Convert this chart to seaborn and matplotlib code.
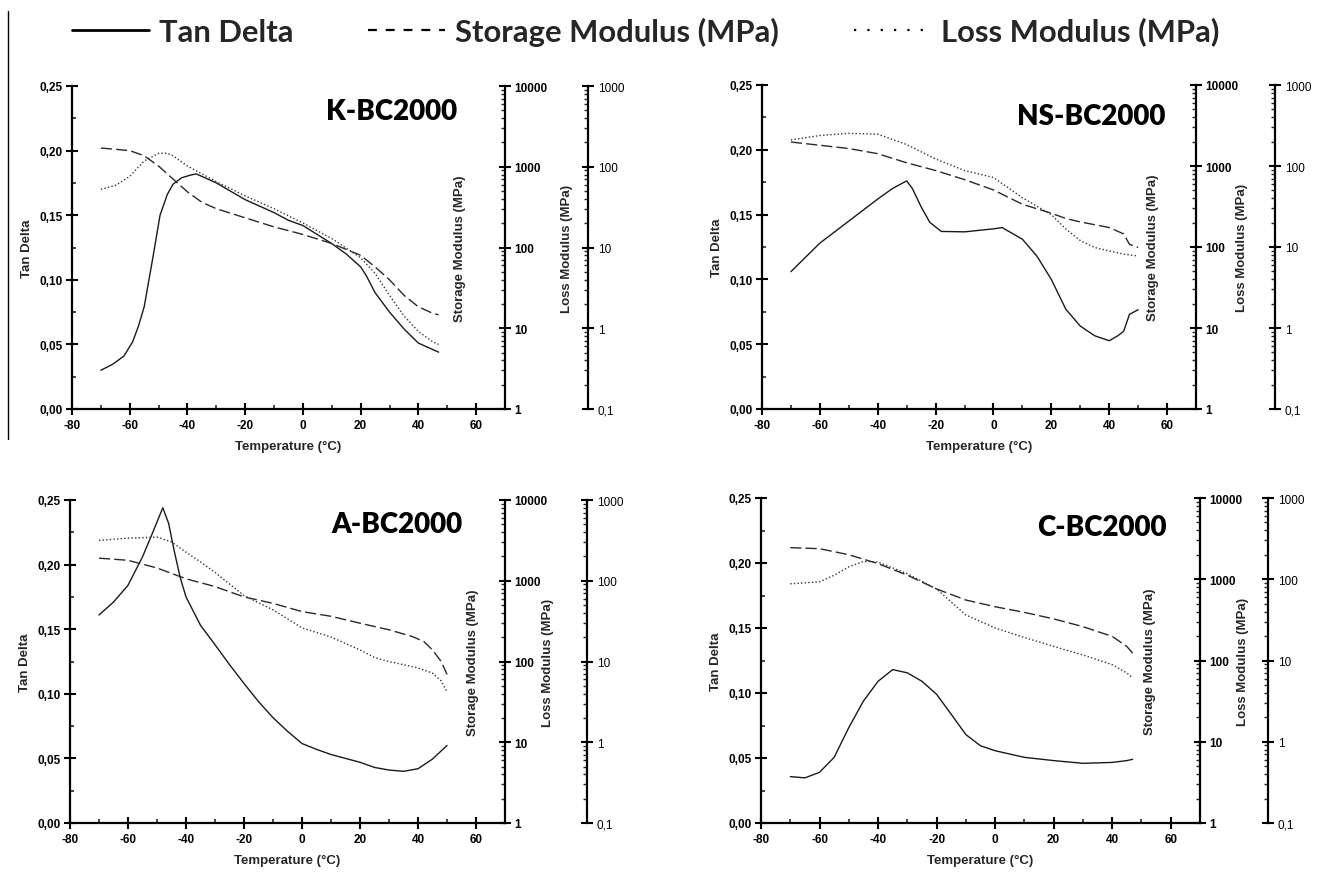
import matplotlib
matplotlib.use("Agg")
import matplotlib.pyplot as plt
import seaborn as sns
from matplotlib.lines import Line2D
from matplotlib.ticker import MultipleLocator, LogLocator, FuncFormatter, NullFormatter

sns.set_style("white")
plt.rcParams["font.family"] = ["Liberation Sans", "DejaVu Sans"]
plt.rcParams["axes.unicode_minus"] = False

# ---------------- data ----------------
panel_names = ["K-BC2000", "NS-BC2000", "A-BC2000", "C-BC2000"]
legend_labels = ["Tan Delta", "Storage Modulus (MPa)", "Loss Modulus (MPa)"]

# K-BC2000
k_tan_t = [-70, -66, -62, -59, -57, -55, -52, -49.5, -47, -45, -42, -39, -37, -30, -20, -10, -5, 0, 5, 10, 15, 20,
           22, 25, 30, 35, 40, 45, 47]
k_tan = [0.030, 0.0345, 0.041, 0.052, 0.064, 0.079, 0.117, 0.150, 0.166, 0.174, 0.179, 0.181, 0.182, 0.175, 0.162,
         0.152, 0.146, 0.142, 0.135, 0.128, 0.120, 0.110, 0.103, 0.090, 0.075, 0.062, 0.051, 0.046, 0.044]
k_sto_t = [-70, -60, -55, -50, -45, -40, -35, -30, -20, -10, 0, 10, 20, 25, 30, 35, 40, 45, 47]
k_sto = [1706, 1585, 1368, 1019, 705, 488, 363, 302, 233, 180, 145, 112, 80, 57.5, 39.8, 25.6, 18.4, 15.3, 14.7]
k_loss_t = [-70, -65, -60, -55, -50, -47, -45, -40, -35, -30, -20, -10, 0, 10, 20, 25, 30, 35, 40, 45, 47]
k_loss = [52.5, 58.6, 75.9, 118, 147, 147, 137, 102, 81.7, 65.5, 43.6, 30.2, 20.1, 12.9, 7.45, 4.79, 2.56, 1.42,
          0.912, 0.679, 0.631]

# NS-BC2000
ns_tan_t = [-70, -60, -50, -40, -35, -30, -28, -25, -22, -18, -10, 0, 3, 10, 15, 20, 25, 30, 35, 40, 43, 45, 47, 50]
ns_tan = [0.106, 0.128, 0.145, 0.162, 0.170, 0.176, 0.170, 0.156, 0.144, 0.137, 0.1367, 0.139, 0.140, 0.131, 0.118,
          0.100, 0.077, 0.064, 0.0565, 0.0527, 0.0565, 0.060, 0.073, 0.0766]
ns_sto_t = [-70, -60, -50, -40, -30, -20, -10, 0, 10, 20, 25, 30, 40, 45, 47, 50]
ns_sto = [1977, 1803, 1644, 1419, 1096, 879, 679, 506, 337, 261, 225, 204, 174, 145, 108, 98.6]
ns_loss_t = [-70, -60, -50, -40, -30, -20, -10, 0, 10, 20, 25, 30, 35, 40, 45, 50]
ns_loss = [210, 238, 253, 247, 184, 122, 87.9, 72.1, 40.6, 25.1, 16.7, 12.0, 9.86, 8.95, 8.17, 7.73]

# A-BC2000
a_tan_t = [-70, -65, -60, -55, -52, -50, -48, -46, -44, -42, -40, -35, -30, -25, -20, -15, -10, -5, 0, 5, 10, 15,
           20, 25, 30, 35, 40, 45, 50]
a_tan = [0.161, 0.171, 0.184, 0.206, 0.222, 0.233, 0.244, 0.232, 0.210, 0.190, 0.175, 0.153, 0.138, 0.1226, 0.108,
         0.094, 0.0815, 0.071, 0.0615, 0.057, 0.053, 0.050, 0.047, 0.043, 0.041, 0.040, 0.042, 0.0495, 0.060]
a_sto_t = [-70, -60, -50, -40, -30, -20, -10, 0, 10, 20, 30, 38, 42, 45, 48, 50]
a_sto = [1905, 1791, 1439, 1057, 847, 631, 525, 415, 363, 298, 247, 204, 177, 139, 100, 69.2]
a_loss_t = [-70, -60, -50, -45, -40, -35, -30, -20, -10, 0, 10, 20, 25, 30, 40, 45, 48, 50]
a_loss = [316, 337, 347, 302, 226, 171, 127, 65.5, 43.6, 26.1, 20.1, 13.9, 11.2, 10.0, 8.32, 7.18, 5.75, 4.21]

# C-BC2000
c_tan_t = [-70, -65, -60, -55, -50, -45, -40, -35, -30, -25, -20, -15, -10, -5, 0, 10, 20, 30, 40, 45, 47]
c_tan = [0.0357, 0.0347, 0.039, 0.0505, 0.0734, 0.0938, 0.109, 0.118, 0.1155, 0.109, 0.099, 0.0836, 0.068, 0.0594,
         0.0556, 0.0505, 0.048, 0.0459, 0.0466, 0.048, 0.049]
c_sto_t = [-70, -60, -50, -40, -30, -20, -10, 0, 10, 20, 30, 40, 45, 47]
c_sto = [2449, 2377, 2005, 1556, 1122, 759, 555, 459, 391, 325, 261, 198, 149, 123]
c_loss_t = [-70, -60, -55, -50, -45, -40, -30, -20, -15, -10, 0, 10, 20, 30, 40, 45, 47]
c_loss = [87.9, 92.9, 112, 142, 166, 163, 117, 75.9, 52.5, 36.3, 25.1, 19.2, 14.9, 11.7, 8.89, 7.02, 6.11]

panel_data = [
    (k_tan_t, k_tan, k_sto_t, k_sto, k_loss_t, k_loss),
    (ns_tan_t, ns_tan, ns_sto_t, ns_sto, ns_loss_t, ns_loss),
    (a_tan_t, a_tan, a_sto_t, a_sto, a_loss_t, a_loss),
    (c_tan_t, c_tan, c_sto_t, c_sto, c_loss_t, c_loss),
]

# ---------------- layout ----------------
W, H = 1320, 878
# left, right(storage spine), top, bottom  in pixels
boxes = [(72, 505, 87, 410), (762, 1196, 86, 410), (70, 505, 501, 824), (761, 1200, 499, 824)]
loss_offset_px = [83, 79, 82, 68]
sto_label_px = [-45, -43, -32, -50]      # relative to storage spine
loss_label_px = [-21, -33, -39, -25]     # relative to loss spine
title_pos = [(0.889, 0.923), (0.929, 0.904), (0.903, 0.926), (0.925, 0.911)]

LC = "#1a1a1a"

fig = plt.figure(figsize=(W / 100, H / 100), dpi=100)


def comma_fmt(fmt):
    return FuncFormatter(lambda v, _: (fmt % v).replace(".", ","))


for i, (name, data) in enumerate(zip(panel_names, panel_data)):
    l, r, t, b = boxes[i]
    wpx = r - l
    ax = fig.add_axes([l / W, 1 - b / H, wpx / W, (b - t) / H])
    ax_s = ax.twinx()
    ax_l = ax.twinx()
    tt, tv, st, sv, lt, lv = data

    sns.lineplot(x=tt, y=tv, ax=ax, color=LC, linewidth=1.0, estimator=None, sort=False)
    sns.lineplot(x=st, y=sv, ax=ax_s, color="#2a2a2a", linewidth=1.0, estimator=None, sort=False,
                 linestyle=(0, (8, 3)))
    sns.lineplot(x=lt, y=lv, ax=ax_l, color="#333333", linewidth=1.0, estimator=None, sort=False,
                 linestyle=(0, (1, 1.6)))

    # main axes
    ax.set_xlim(-80, 70)
    ax.set_ylim(0, 0.25)
    ax.set_xticks([-80, -60, -40, -20, 0, 20, 40, 60])
    ax.xaxis.set_minor_locator(MultipleLocator(10))
    ax.yaxis.set_major_locator(MultipleLocator(0.05))
    ax.yaxis.set_minor_locator(MultipleLocator(0.025))
    ax.xaxis.set_major_formatter(comma_fmt("%d"))
    ax.yaxis.set_major_formatter(comma_fmt("%.2f"))
    ax.set_xlabel("Temperature (°C)", fontsize=9.5, fontweight="bold", labelpad=7)
    ax.set_ylabel("Tan Delta", fontsize=9.5, fontweight="bold", labelpad=4)
    for s in ["top", "right"]:
        ax.spines[s].set_visible(False)
    for s in ["left", "bottom"]:
        ax.spines[s].set_linewidth(1.6)
        ax.spines[s].set_color("black")
    ax.tick_params(which="major", direction="inout", length=8, width=1.5, bottom=True, left=True,
                   labelsize=8.5, pad=3, colors="black")
    ax.tick_params(which="minor", direction="in", length=3, width=1.2, bottom=True, left=True)
    for lab in ax.get_xticklabels() + ax.get_yticklabels():
        lab.set_fontweight("bold")

    # storage and loss axes
    for tw, lims in ((ax_s, (1, 10000)), (ax_l, (0.1, 1000))):
        tw.set_yscale("log")
        tw.set_ylim(*lims)
        tw.yaxis.set_major_locator(LogLocator(base=10, numticks=10))
        tw.yaxis.set_minor_locator(LogLocator(base=10, subs=range(2, 10), numticks=20))
        tw.yaxis.set_minor_formatter(NullFormatter())
        tw.yaxis.set_major_formatter(comma_fmt("%g"))
        for s in ["top", "left", "bottom"]:
            tw.spines[s].set_visible(False)
        tw.spines["right"].set_linewidth(1.6)
        tw.spines["right"].set_color("black")
        tw.tick_params(which="major", direction="inout", length=8, width=1.5, right=True,
                       labelsize=8.5, pad=3, colors="black")
        tw.tick_params(which="minor", direction="in", length=3, width=1.0, right=True)
        for lab in tw.get_yticklabels():
            lab.set_fontweight("bold")

    loss_pos = 1 + loss_offset_px[i] / wpx
    ax_l.spines["right"].set_position(("axes", loss_pos))

    ax_s.set_ylabel("Storage Modulus (MPa)", fontsize=9.5, fontweight="bold")
    ax_s.yaxis.set_label_coords(1 + sto_label_px[i] / wpx, 0.5)
    ax_s.yaxis.label.set_va("center")
    ax_l.set_ylabel("Loss Modulus (MPa)", fontsize=9.5, fontweight="bold")
    ax_l.yaxis.set_label_coords(loss_pos + loss_label_px[i] / wpx, 0.5)
    ax_l.yaxis.label.set_va("center")

    ax.text(title_pos[i][0], title_pos[i][1], name, transform=ax.transAxes, ha="right", va="center",
            fontsize=20, fontweight="heavy", family=["Lato", "DejaVu Sans"], color="black")

# legend
handles = [
    Line2D([], [], color="black", linewidth=2.0, linestyle="-"),
    Line2D([], [], color="black", linewidth=1.6, linestyle=(0, (4, 4))),
    Line2D([], [], color="black", linewidth=1.6, linestyle=(0, (1, 5))),
]
leg = fig.legend(handles, legend_labels, loc="center left", bbox_to_anchor=(44 / W, 1 - 32 / H), ncol=3,
                 frameon=False, handlelength=2.5, handletextpad=0.32, columnspacing=2.4,
                 prop=dict(family=["Lato", "DejaVu Sans"], weight="bold", size=22.3))

# thin vertical rule at the far left of the original figure
fig.add_artist(Line2D([8 / W, 8 / W], [1 - 12 / H, 1 - 440 / H], color="black", linewidth=1.0))

fig.savefig("out.png", dpi=100)
